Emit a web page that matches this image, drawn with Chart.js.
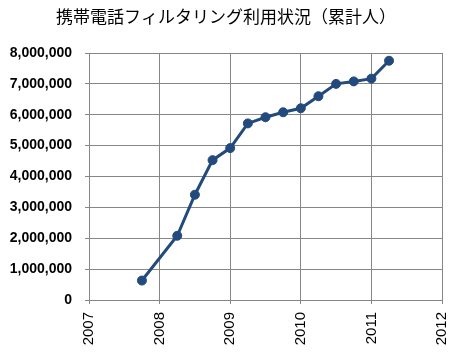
<!DOCTYPE html>
<html>
<head>
<meta charset="utf-8">
<script src="https://cdn.jsdelivr.net/npm/chart.js@4"></script>
<style>
  body { margin: 0; background: #fff; }
</style>
</head>
<body>
<canvas id="grafico" width="460" height="354"></canvas>
<script>
// 時点（年の小数表記）と累計利用者数
const periodos = [2007.75, 2008.25, 2008.5, 2008.75, 2009.0, 2009.25, 2009.5,
                  2009.75, 2010.0, 2010.25, 2010.5, 2010.75, 2011.0, 2011.25];
const usuarios = [630000, 2080000, 3410000, 4530000, 4920000, 5720000, 5920000,
                  6080000, 6210000, 6600000, 7000000, 7080000, 7170000, 7750000];
const anos = [2007, 2008, 2009, 2010, 2011, 2012];
const titulo = '携帯電話フィルタリング利用状況（累計人）';

const ctx = document.getElementById('grafico').getContext('2d');
const cinza = '#868686';
const azul = '#234a7c';

const grafico = new Chart(ctx, {
  type: 'line',
  data: {
    datasets: [{
      label: '累計人',
      data: periodos.map((x, i) => ({ x: x, y: usuarios[i] })),
      borderColor: azul,
      backgroundColor: azul,
      borderWidth: 3,
      pointRadius: 4.5,
      pointBorderWidth: 1,
      pointBackgroundColor: azul,
      pointBorderColor: azul,
      tension: 0
    }]
  },
  options: {
    responsive: false,
    animation: false,
    layout: { padding: { left: 10, right: 18, top: 0, bottom: 0 } },
    plugins: {
      legend: { display: false },
      tooltip: { enabled: false },
      title: {
        display: true,
        text: titulo,
        color: '#000',
        font: { family: "'Noto Sans CJK JP'", size: 17, weight: 'normal' },
        padding: { top: 6, bottom: 26.6 }
      }
    },
    scales: {
      x: {
        type: 'linear',
        min: anos[0],
        max: anos[anos.length - 1],
        afterBuildTicks: (axis) => { axis.ticks = anos.map(v => ({ value: v })); },
        afterFit: (axis) => {
          axis.height = 54;
          axis.paddingLeft = 0;
          axis.paddingRight = 0;
        },
        grid: { color: cinza, tickLength: 4, drawTicks: true },
        border: { color: cinza },
        ticks: {
          color: '#000',
          maxRotation: 90,
          minRotation: 90,
          padding: 8,
          font: { family: "'Liberation Sans'", size: 15 },
          callback: (v) => String(v)
        }
      },
      y: {
        min: 0,
        max: 8000000,
        afterFit: (axis) => {
          axis.width = 79;
          axis.paddingTop = 0;
          axis.paddingBottom = 0;
        },
        grid: { color: cinza, tickLength: 4 },
        border: { color: cinza },
        ticks: {
          stepSize: 1000000,
          color: '#000',
          padding: 13,
          font: { family: "'Liberation Sans'", size: 14, weight: 'bold' },
          callback: (v) => v.toLocaleString('en-US')
        }
      }
    }
  }
});
</script>
</body>
</html>
